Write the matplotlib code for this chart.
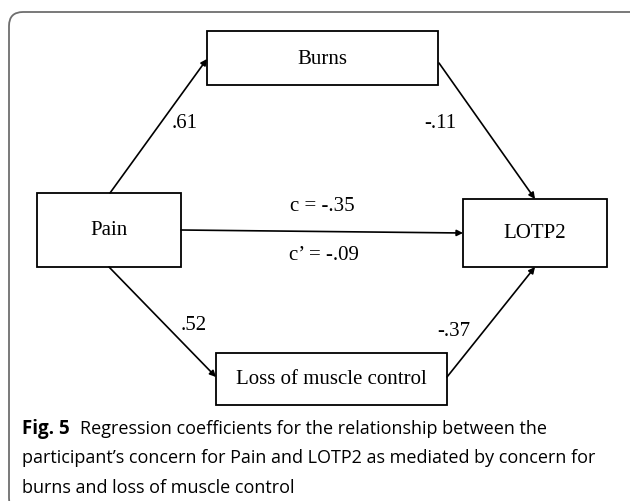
import matplotlib.pyplot as plt
from matplotlib.patches import Rectangle, FancyBboxPatch

# node labels and path coefficients
nodes = ["Burns", "Pain", "LOTP2", "Loss of muscle control"]
path_a = [".61", ".52"]       # Pain -> mediators
path_b = ["-.11", "-.37"]     # mediators -> LOTP2
total_effect = "c = -.35"
direct_effect = "c\u2019 = -.09"
caption_bold = "Fig. 5"
caption_lines = [
    "Regression coefficients for the relationship between the",
    "participant\u2019s concern for Pain and LOTP2 as mediated by concern for",
    "burns and loss of muscle control",
]

# layout in pixel space (x0, y0, x1, y1)
boxes = {
    "Burns": (207, 32, 438, 86),
    "Pain": (37, 194, 181, 268),
    "LOTP2": (463, 200, 607, 268),
    "Loss of muscle control": (216, 354, 447, 406),
}

fig = plt.figure(figsize=(6.3, 5.02), dpi=100)
ax = fig.add_axes([0, 0, 1, 1])
ax.set_xlim(0, 630)
ax.set_ylim(502, 0)
ax.axis("off")

# outer rounded frame
ax.add_patch(FancyBboxPatch((9, 13), 640, 500, boxstyle="round,pad=0,rounding_size=14",
                            fc="white", ec="#6e6e6e", lw=1.3))

serif = "Liberation Serif"
for name in nodes:
    x0, y0, x1, y1 = boxes[name]
    ax.add_patch(Rectangle((x0, y0), x1 - x0, y1 - y0, fc="white", ec="black", lw=1.3))
    ax.text((x0 + x1) / 2, (y0 + y1) / 2, name, ha="center", va="center",
            family=serif, fontsize=15)

arrows = [
    ((110, 194), (207, 60)),
    ((439, 64), (535, 200)),
    ((181, 231), (463, 234)),
    ((109, 268), (216, 378)),
    ((447, 378), (535, 268)),
]
for start, end in arrows:
    ax.annotate("", xy=end, xytext=start,
                arrowprops=dict(arrowstyle="-|>", color="black", lw=1.2,
                                mutation_scale=9, shrinkA=0, shrinkB=0))

labels = [
    (185, 124, path_a[0]),
    (440, 124, path_b[0]),
    (194, 326, path_a[1]),
    (454, 332, path_b[1]),
    (322, 207, total_effect),
    (324, 256, direct_effect),
]
for x, y, s in labels:
    ax.text(x, y, s, ha="center", va="center", family=serif, fontsize=15)

# caption
cap_font = "Open Sans"
cap_size = 13.0
x_cap = 22
t = ax.text(x_cap, 429, caption_bold, ha="left", va="center", family=cap_font,
            fontsize=cap_size + 0.5, fontweight="bold")
fig.canvas.draw()
bb = t.get_window_extent()
ax.text(x_cap + bb.width + 10, 429, caption_lines[0], ha="left", va="center",
        family=cap_font, fontsize=cap_size)
for i, line in enumerate(caption_lines[1:]):
    ax.text(x_cap, 458.5 + 29.5 * i, line, ha="left", va="center", family=cap_font,
            fontsize=cap_size)

plt.savefig("out.png", dpi=100)
plt.close(fig)
